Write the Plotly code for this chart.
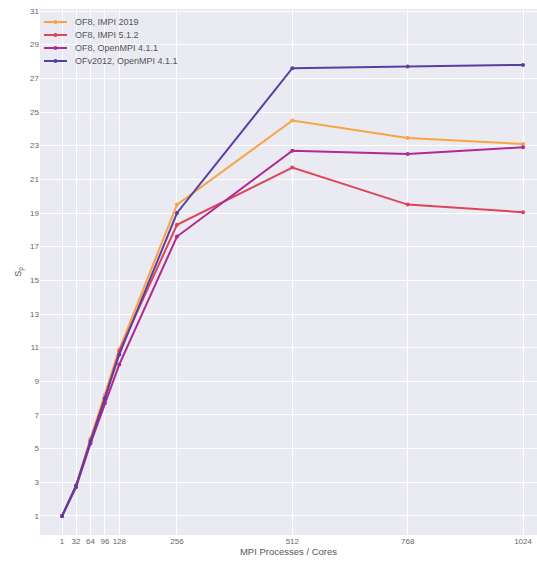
import plotly.graph_objects as go

cores = [1, 32, 64, 96, 128, 256, 512, 768, 1024]
series_names = ["OF8, IMPI 2019", "OF8, IMPI 5.1.2", "OF8, OpenMPI 4.1.1", "OFv2012, OpenMPI 4.1.1"]
impi2019 = [1, 2.8, 5.6, 8.2, 10.9, 19.5, 24.5, 23.45, 23.1]
impi512 = [1, 2.8, 5.5, 8.0, 10.8, 18.3, 21.7, 19.5, 19.05]
ompi_of8 = [1, 2.7, 5.3, 7.7, 10.0, 17.6, 22.7, 22.5, 22.9]
ompi_ofv = [1, 2.8, 5.4, 8.0, 10.6, 19.0, 27.6, 27.7, 27.8]
series_values = [impi2019, impi512, ompi_of8, ompi_ofv]
colors = ["#f9a443", "#dd4658", "#b12a90", "#5a3fa3"]
x_ticks = [1, 32, 64, 96, 128, 256, 512, 768, 1024]
y_ticks = list(range(1, 32, 2))

fig = go.Figure()
for name, vals, c in zip(series_names, series_values, colors):
    fig.add_trace(go.Scatter(x=cores, y=vals, name=name, mode="lines+markers",
                             line=dict(color=c, width=2),
                             marker=dict(color=c, size=4), showlegend=False))

# compact legend drawn in the top-left corner (pixel offsets from the plot corner)
row_gap = 13
for i, (name, c) in enumerate(zip(series_names, colors)):
    yoff = -13 - i * row_gap
    fig.add_shape(type="line", xref="paper", yref="paper", xsizemode="pixel", ysizemode="pixel",
                  xanchor=0, yanchor=1, x0=4, x1=27, y0=yoff, y1=yoff,
                  line=dict(color=c, width=2))
    fig.add_shape(type="circle", xref="paper", yref="paper", xsizemode="pixel", ysizemode="pixel",
                  xanchor=0, yanchor=1, x0=13.5, x1=17.5, y0=yoff - 2, y1=yoff + 2,
                  line=dict(color=c, width=0), fillcolor=c)
    fig.add_annotation(text=name, xref="paper", yref="paper", x=0, y=1, xshift=33, yshift=yoff,
                       xanchor="left", yanchor="middle", showarrow=False,
                       font=dict(size=9, color="#555"))

axis_common = dict(showgrid=True, gridcolor="white", gridwidth=1, zeroline=False,
                   showline=False, ticks="", tickfont=dict(size=8, color="#666"))
fig.update_layout(
    width=537, height=561,
    margin=dict(l=40, r=0, t=9, b=26, autoexpand=False),
    paper_bgcolor="white", plot_bgcolor="#eaeaf2",
    font=dict(family="Liberation Sans, Arial, sans-serif", color="#555"),
    xaxis=dict(range=[-48, 1055], tickvals=x_ticks, ticktext=[str(t) for t in x_ticks],
               title=dict(text="MPI Processes / Cores", font=dict(size=9.5, color="#555"), standoff=0),
               **axis_common),
    yaxis=dict(range=[-0.13, 31.12], tickvals=y_ticks,
               title=dict(text="S<sub>p</sub>", font=dict(size=9, color="#555"), standoff=6),
               **axis_common),
    showlegend=False,
)
fig.write_html("out.html", config={"displayModeBar": False},
               post_script="document.body.style.margin='0px';")
